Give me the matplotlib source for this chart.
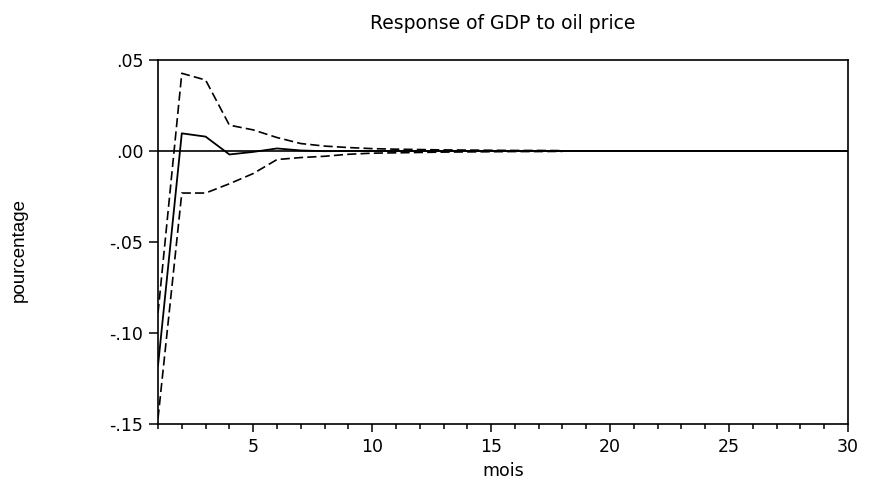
import matplotlib
matplotlib.use("Agg")
import matplotlib.pyplot as plt
from matplotlib import font_manager
from matplotlib.ticker import MultipleLocator, FixedLocator

periods = list(range(1, 31))
response = [-0.118, 0.0097, 0.0079, -0.0019, -0.0005, 0.0014, 0.0003, -0.0001, 0.0000, 0.0000,
            0.0000, 0.0000, 0.0000, 0.0000, 0.0000, 0.0000, 0.0000, 0.0000, 0.0000, 0.0000,
            0.0000, 0.0000, 0.0000, 0.0000, 0.0000, 0.0000, 0.0000, 0.0000, 0.0000, 0.0000]
band_periods = list(range(1, 19))
upper = [-0.089, 0.0427, 0.0390, 0.0142, 0.0116, 0.0074, 0.0041, 0.0027, 0.0019, 0.0013,
         0.0010, 0.0008, 0.0006, 0.0005, 0.0004, 0.0003, 0.0003, 0.0002]
lower = [-0.147, -0.0231, -0.0231, -0.0180, -0.0124, -0.0047, -0.0036, -0.0029, -0.0018, -0.0012,
         -0.0010, -0.0008, -0.0006, -0.0005, -0.0004, -0.0003, -0.0003, -0.0002]
yticks = [-0.15, -0.10, -0.05, 0.00, 0.05]
ytick_labels = ["-.15", "-.10", "-.05", ".00", ".05"]
xticks = [5, 10, 15, 20, 25, 30]

names = {f.name for f in font_manager.fontManager.ttflist}
wide_font = "DejaVu Sans"
label_font = "Liberation Sans" if "Liberation Sans" in names else "DejaVu Sans"
plt.rcParams["font.family"] = [wide_font]

W, H = 869, 493
fig = plt.figure(figsize=(W / 100, H / 100), dpi=100)
ax = fig.add_axes([158 / W, 1 - 424 / H, (848 - 158) / W, (424 - 60) / H])

ax.axhline(0, color="black", lw=1.2, zorder=1)
ax.plot(band_periods, upper, color="black", lw=1.2, linestyle=(0, (5.5, 2.5)), zorder=2)
ax.plot(band_periods, lower, color="black", lw=1.2, linestyle=(0, (5.5, 2.5)), zorder=2)
ax.plot(periods, response, color="black", lw=1.3, zorder=3)

ax.set_xlim(1, 30)
ax.set_ylim(-0.15, 0.05)
ax.xaxis.set_major_locator(FixedLocator(xticks))
ax.xaxis.set_minor_locator(MultipleLocator(1))
ax.set_yticks(yticks)
ax.set_yticklabels(ytick_labels)
ax.tick_params(axis="y", which="major", direction="out", length=6.5, width=1.1,
               labelsize=12.5, pad=4, colors="black")
ax.tick_params(axis="x", which="major", direction="out", length=5.8, width=1.1,
               labelsize=12.5, pad=4, colors="black")
ax.tick_params(axis="x", which="minor", direction="out", length=3.6, width=1.1)
ax.tick_params(axis="y", which="minor", left=False)
for s in ax.spines.values():
    s.set_linewidth(1.2)
    s.set_color("black")

fig.text(503 / W, 1 - 29 / H, "Response of GDP to oil price", fontsize=13.5,
         ha="center", va="baseline")
fig.text(503 / W, 1 - 476 / H, "mois", fontsize=12.5, ha="center", va="baseline")
fig.text(19 / W, 1 - 250 / H, "pourcentage", fontsize=13.5, family=[label_font],
         rotation=90, ha="center", va="center")

fig.savefig("out.png", dpi=100, facecolor="white")
